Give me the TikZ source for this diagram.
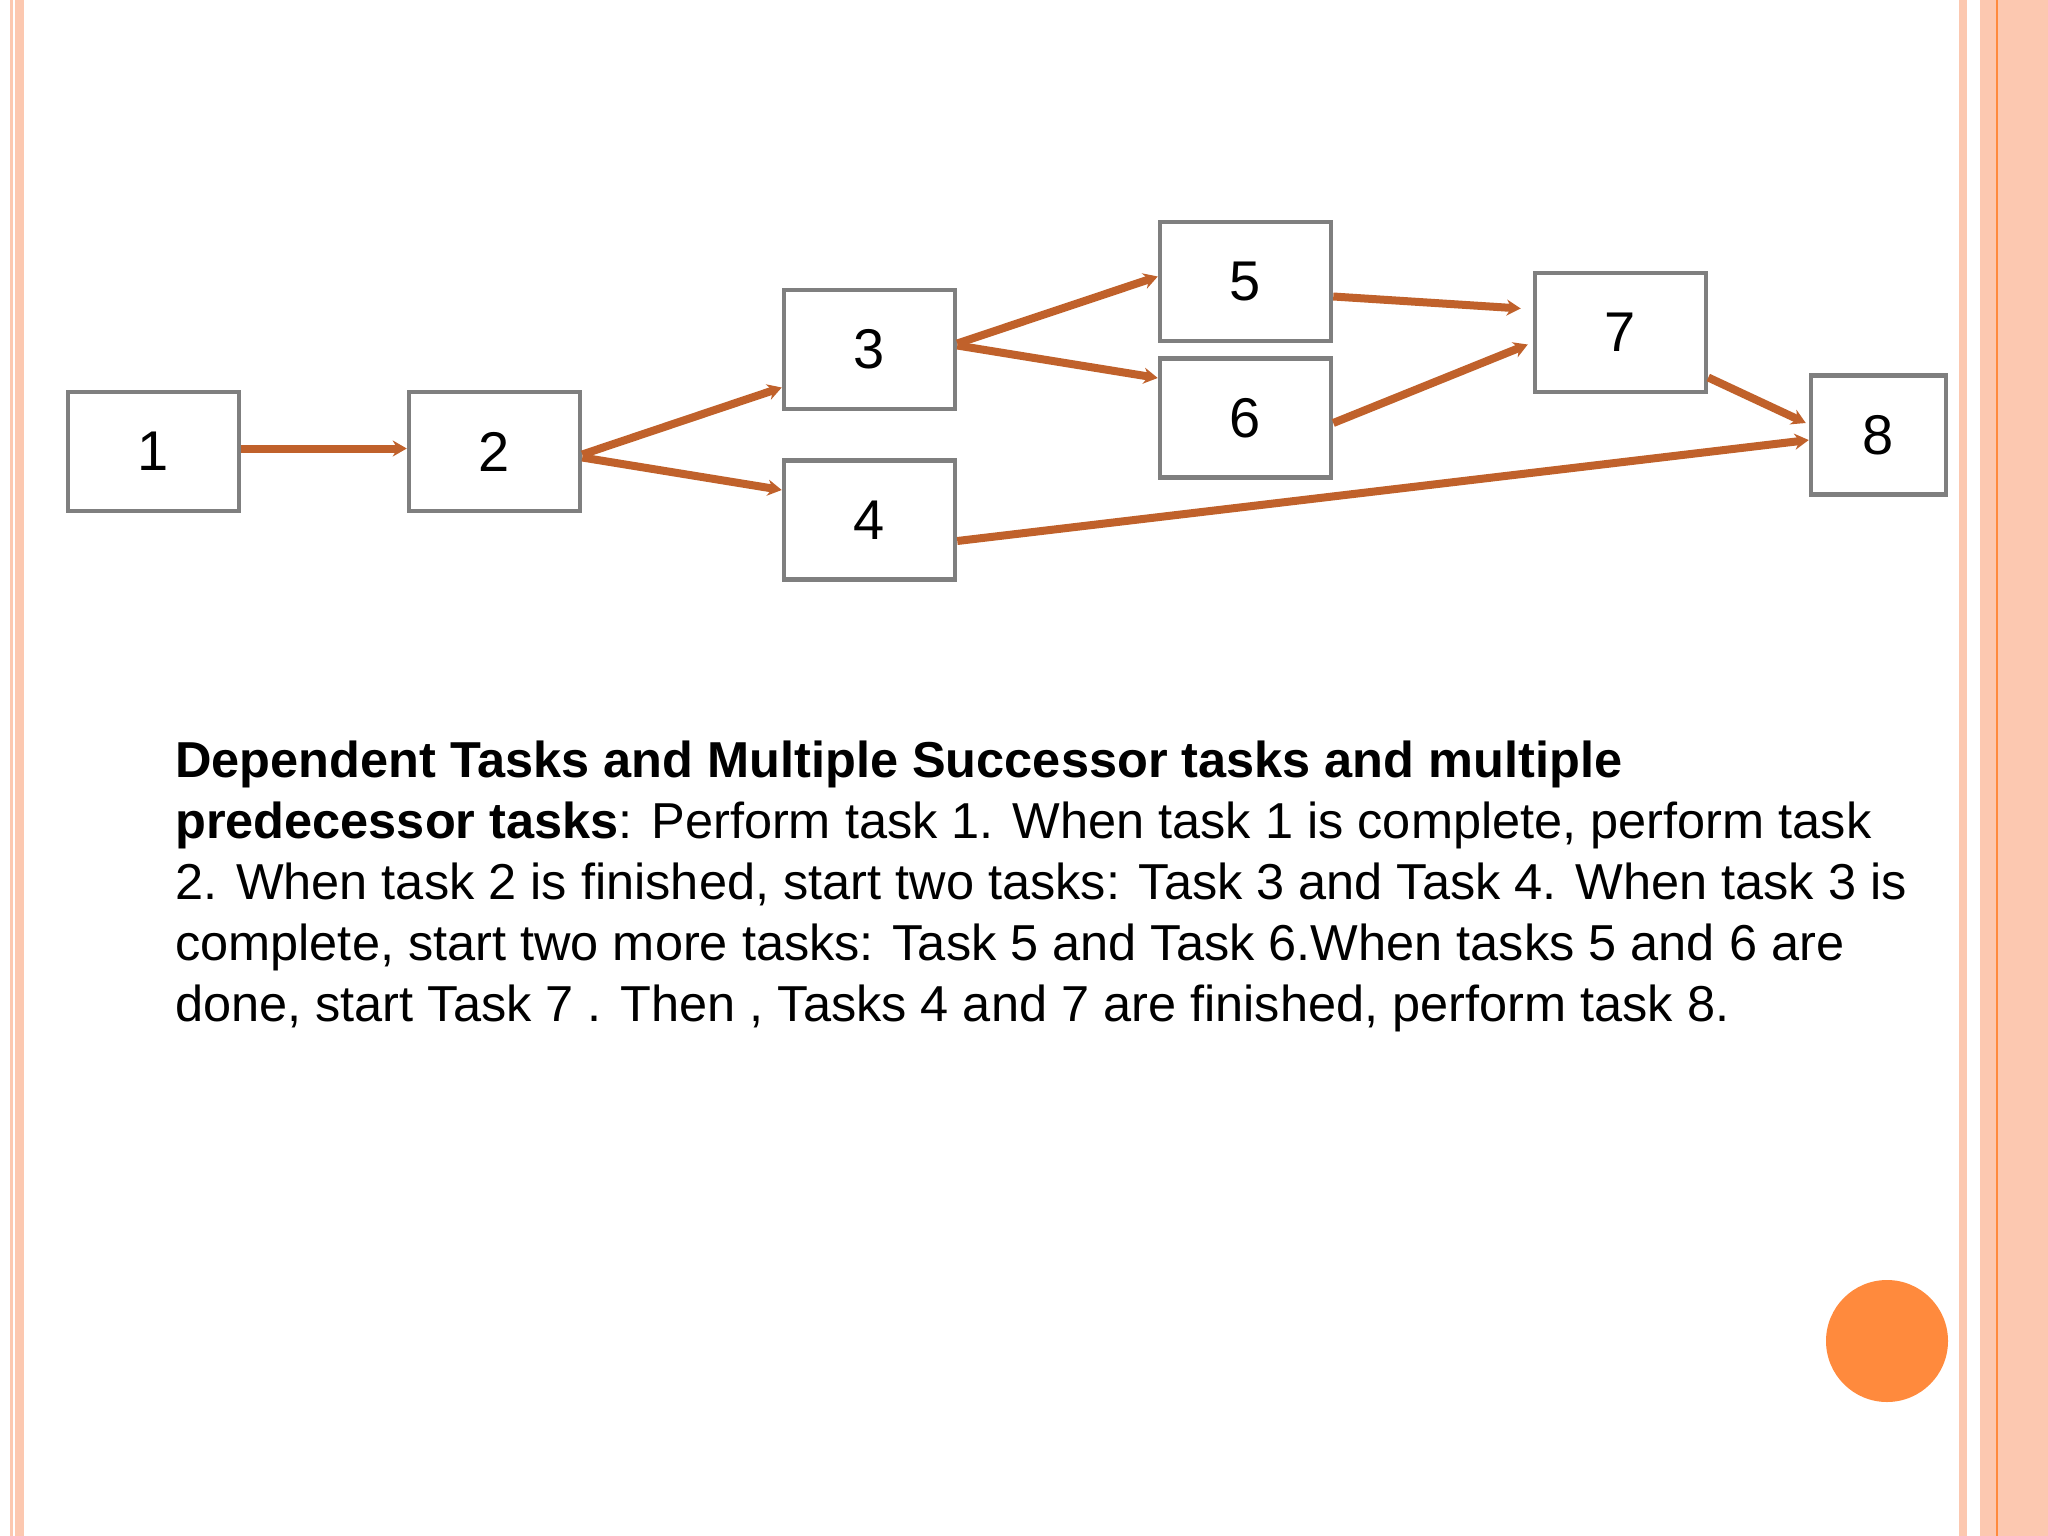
\documentclass[tikz,border=0pt]{standalone}
\usepackage{fontspec}
\setmainfont{Liberation Sans}
\usetikzlibrary{calc,arrows.meta}
\definecolor{salmon}{HTML}{FCC8B0}
\definecolor{arr}{HTML}{C0612B}
\definecolor{bx}{HTML}{7F7F7F}
\definecolor{dot}{HTML}{FF8A3D}
\tikzset{
 task/.style={draw=bx,line width=4.5pt,minimum width=171pt,minimum height=119pt,inner sep=0pt,font=\fontsize{56}{60}\selectfont},
 link/.style={draw=arr,line width=8pt,-{Stealth[length=14pt,width=16pt]}}
}
\begin{document}
\begin{tikzpicture}[x=1pt,y=-1pt]
\fill[white] (0,0) rectangle (2048,1536);
\useasboundingbox (0,0) rectangle (2048,1536);
% borders
\fill[salmon] (10,0) rectangle (13,1536);
\fill[salmon] (15,0) rectangle (24,1536);
\fill[salmon] (1959,0) rectangle (1967,1536);
\fill[salmon] (1980,0) rectangle (2048,1536);
\fill[dot] (1996,0) rectangle (1998,1536);
% boxes
\node[task] (n1) at (153.5,451.5) {1};
\node[task] (n2) at (494.5,451.5) {2};
\node[task] (n3) at (869.5,349.5) {3};
\node[task] (n4) at (869.5,520) {4};
\node[task] (n5) at (1245.5,281.5) {5};
\node[task] (n6) at (1245.5,418) {6};
\node[task] (n7) at (1620.5,332.5) {7};
\node[task,minimum width=135pt] (n8) at (1878.5,435) {8};
% arrows
\draw[link] ($(n1.east)+(0,-3)$) -- ($(n2.west)+(0,-3)$);
\draw[link] ($(n2.east)+(0,3)$) -- ($(n3.west)+(0,38)$);
\draw[link] ($(n2.east)+(0,6)$) -- ($(n4.west)+(0,-30)$);
\draw[link] ($(n3.east)+(0,-6)$) -- ($(n5.west)+(0,-5)$);
\draw[link] ($(n3.east)+(0,-4)$) -- ($(n6.west)+(0,-40)$);
\draw[link] ($(n5.east)+(0,15)$) -- ($(n7.west)+(-12,-24)$);
\draw[link] ($(n6.east)+(0,5)$) -- ($(n7.west)+(-5,12)$);
\draw[link] ($(n7.east)+(0,45)$) -- ($(n8.west)+(-3,-12)$);
\draw[link] ($(n4.east)+(0,21)$) -- ($(n8.west)+(0,5)$);
% text
\node[anchor=base west,align=left,inner sep=0pt,font=\fontsize{50.5}{61}\selectfont] (txt) at (175,1021)
{\textbf{Dependent Tasks and Multiple Successor tasks and multiple}\\
\textbf{predecessor tasks}: Perform task 1. When task 1 is complete, perform task\\
2. When task 2 is finished, start two tasks: Task 3 and Task 4. When task 3 is\\
complete, start two more tasks: Task 5 and Task 6.When tasks 5 and 6 are\\
done, start Task 7 . Then , Tasks 4 and 7 are finished, perform task 8.};
\fill[dot] (1887,1341) circle (61);
\end{tikzpicture}
\end{document}
